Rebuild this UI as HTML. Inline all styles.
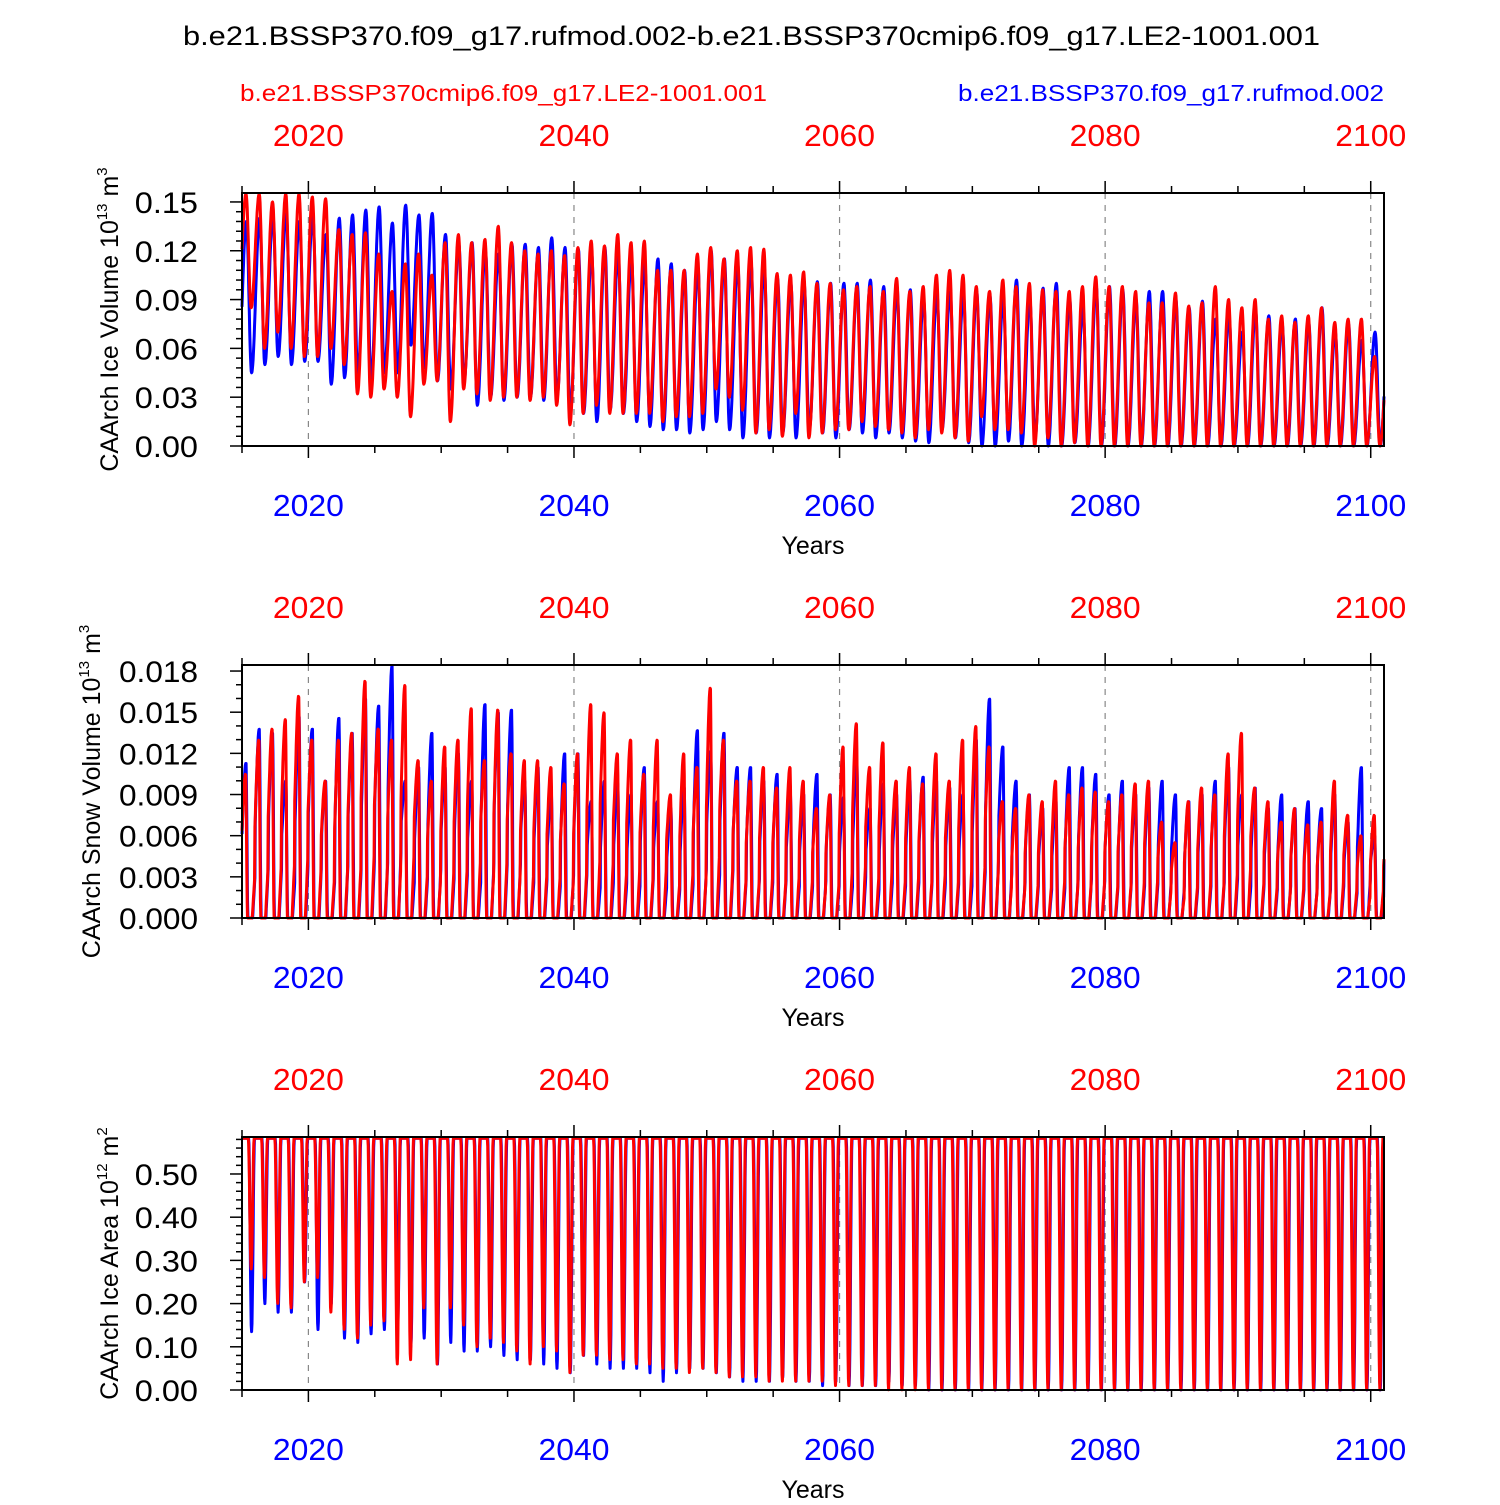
<!DOCTYPE html>
<html><head><meta charset="utf-8"><style>
body{margin:0;background:#fff}
svg text{font-family:"Liberation Sans",sans-serif}
</style></head><body>
<svg id="c" width="1500" height="1500" xmlns="http://www.w3.org/2000/svg">
<text x="183" y="45" font-size="27" textLength="1137" lengthAdjust="spacingAndGlyphs">b.e21.BSSP370.f09_g17.rufmod.002-b.e21.BSSP370cmip6.f09_g17.LE2-1001.001</text>
<text x="240" y="101" font-size="23" fill="#f00" textLength="527" lengthAdjust="spacingAndGlyphs">b.e21.BSSP370cmip6.f09_g17.LE2-1001.001</text>
<text x="958" y="101" font-size="23" fill="#00f" textLength="426" lengthAdjust="spacingAndGlyphs">b.e21.BSSP370.f09_g17.rufmod.002</text>
</svg>
<script>
const startYear=[2015];
const yearTicks=[2020,2040,2060,2080,2100];
const volBlueMax=[.138,.140,.141,.143,.138,.141,.130,.140,.142,.145,.147,.137,.148,.142,.143,.130,.124,.125,.120,.118,.124,.124,.122,.128,.122,.121,.118,.122,.118,.115,.112,.115,.112,.108,.110,.120,.115,.112,.113,.110,.103,.100,.100,.101,.100,.100,.100,.102,.098,.097,.096,.090,.094,.095,.093,.095,.092,.090,.102,.090,.097,.100,.090,.085,.098,.098,.096,.090,.095,.095,.090,.085,.089,.078,.080,.070,.083,.080,.075,.078,.076,.085,.070,.075,.065,.070];
const volBlueMin=[.045,.050,.055,.050,.052,.052,.038,.042,.045,.040,.045,.045,.062,.048,.040,.035,.040,.025,.030,.028,.030,.030,.028,.030,.020,.020,.015,.022,.020,.015,.012,.010,.010,.008,.010,.015,.010,.005,.008,.005,.008,.005,.010,.008,.005,.010,.008,.005,.008,.005,.003,.002,.010,.005,.002,0,0,.003,0,.005,0,0,.002,0,0,0,0,0,0,0,0,0,0,0,0,0,0,0,0,0,0,0,0,0,0,0];
const volRedMax=[.155,.155,.150,.155,.155,.153,.152,.133,.130,.131,.118,.095,.112,.118,.105,.125,.130,.125,.127,.135,.125,.120,.118,.120,.117,.122,.126,.123,.130,.125,.126,.108,.108,.108,.118,.122,.115,.120,.122,.121,.106,.105,.107,.100,.100,.096,.098,.098,.095,.103,.095,.098,.105,.108,.105,.098,.095,.102,.098,.100,.096,.095,.095,.098,.104,.098,.098,.095,.088,.088,.094,.086,.088,.098,.090,.085,.090,.078,.080,.076,.080,.085,.076,.078,.078,.055];
const volRedMin=[.085,.060,.070,.060,.055,.055,.060,.050,.032,.030,.035,.030,.018,.038,.040,.015,.035,.032,.028,.030,.030,.028,.030,.025,.013,.020,.025,.020,.020,.020,.020,.015,.018,.018,.020,.035,.030,.022,.008,.010,.006,.020,.005,.008,.010,.010,.015,.012,.010,.008,.005,.010,.008,.005,.003,.018,.010,.010,.008,0,.005,0,.002,0,0,0,0,0,0,0,0,0,0,0,0,0,0,0,0,0,0,0,0,0,0,0];
const snowBlueMax=[.0113,.0138,.0135,.0100,.0147,.0138,.0100,.0146,.0135,.0160,.0155,.0184,.0100,.0110,.0135,.0110,.0120,.0100,.0156,.0150,.0152,.0100,.0110,.0090,.0120,.0120,.0085,.0100,.0098,.0090,.0110,.0085,.0080,.0095,.0137,.0122,.0135,.0110,.0110,.0100,.0105,.0090,.0090,.0105,.0090,.0088,.0115,.0080,.0098,.0090,.0100,.0103,.0100,.0095,.0090,.0130,.0160,.0125,.0100,.0090,.0080,.0085,.0110,.0110,.0105,.0090,.0100,.0090,.0095,.0100,.0090,.0085,.0090,.0100,.0110,.0090,.0095,.0080,.0090,.0080,.0085,.0080,.0090,.0070,.0110,.0060];
const snowRedMax=[.0105,.0130,.0138,.0145,.0162,.0130,.0100,.0130,.0135,.0173,.0138,.0130,.0170,.0115,.0100,.0125,.0130,.0153,.0115,.0152,.0120,.0115,.0115,.0110,.0098,.0120,.0156,.0150,.0120,.0130,.0105,.0130,.0090,.0120,.0110,.0168,.0130,.0100,.0100,.0110,.0095,.0110,.0100,.0080,.0090,.0125,.0142,.0110,.0128,.0100,.0110,.0098,.0120,.0100,.0130,.0140,.0125,.0085,.0080,.0090,.0085,.0100,.0090,.0095,.0092,.0085,.0090,.0098,.0100,.0070,.0055,.0085,.0095,.0090,.0120,.0135,.0095,.0085,.0070,.0080,.0068,.0070,.0100,.0075,.0060,.0075];
const areaMax=[.585,.585,.585,.585,.585,.585,.585,.585,.585,.585,.585,.585,.585,.585,.585,.585,.585,.585,.585,.585,.585,.585,.585,.585,.585,.585,.585,.585,.585,.585,.585,.585,.585,.585,.585,.585,.585,.585,.585,.585,.585,.585,.585,.585,.585,.585,.585,.585,.585,.585,.585,.585,.585,.585,.585,.585,.585,.585,.585,.585,.585,.585,.585,.585,.585,.585,.585,.585,.585,.585,.585,.585,.585,.585,.585,.585,.585,.585,.585,.585,.585,.585,.585,.585,.585,.585];
const areaBlueMin=[.135,.20,.18,.18,.25,.14,.20,.12,.11,.13,.14,.14,.10,.12,.06,.11,.09,.09,.10,.08,.07,.07,.06,.05,.04,.08,.06,.05,.05,.05,.04,.02,.04,.05,.05,.04,.03,.02,.02,.02,.03,.02,.02,.01,.02,.01,.01,.01,.02,.01,.01,0,0,0,0,0,0,0,0,0,0,0,0,0,0,0,0,0,0,0,0,0,0,0,0,0,0,0,0,0,0,0,0,0,0,0];
const areaRedMin=[.28,.26,.20,.19,.25,.26,.18,.14,.12,.15,.16,.06,.07,.19,.06,.19,.15,.10,.12,.11,.09,.06,.10,.09,.04,.08,.08,.07,.07,.06,.06,.05,.05,.04,.05,.04,.03,.03,.03,.02,.02,.02,.02,.02,.01,.01,.01,.01,0,0,0,0,0,0,0,0,0,0,0,0,0,0,0,0,0,0,0,0,0,0,0,0,0,0,0,0,0,0,0,0,0,0,0,0,0,0];
const volTicks=["0.00","0.03","0.06","0.09","0.12","0.15"];
const snowTicks=["0.000","0.003","0.006","0.009","0.012","0.015","0.018"];
const areaTicks=["0.00","0.10","0.20","0.30","0.40","0.50"];

const NS="http://www.w3.org/2000/svg",svg=document.getElementById('c');
const X0=242,X1=1384,T0=2015,T1=2101;
const xs=t=>X0+(t-T0)*(X1-X0)/(T1-T0);
function el(tag,a,txt){const e=document.createElementNS(NS,tag);for(const k in a)e.setAttribute(k,a[k]);if(txt!==undefined)e.textContent=txt;svg.appendChild(e);return e;}
const cosI=(a,b,f)=>a+(b-a)*(1-Math.cos(Math.PI*f))/2;
function volCurve(mx,mn,t,sh){let y=Math.floor(t-sh),p=t-sh-y;const i=Math.min(Math.max(y-T0,0),mx.length-1);
 const pm=mn[Math.max(i-1,0)];
 if(p<0.33)return cosI(pm,mx[i],(p+0.28)/0.61);
 if(p<0.72)return cosI(mx[i],mn[i],(p-0.33)/0.39);
 return cosI(mn[i],mx[Math.min(i+1,mx.length-1)],(p-0.72)/0.61);}
function snowCurve(mx,t,sh){let y=Math.floor(t-sh),p=t-sh-y;const i=Math.min(Math.max(y-T0,0),mx.length-1);
 if(p<0.3)return cosI(mx[Math.max(i-1,0)]*0.3,mx[i],(p+0.2)/0.5);
 if(p<0.45)return cosI(mx[i],0,(p-0.3)/0.15);
 if(p<0.8)return 0;
 return mx[i]*0.3*(p-0.8)/0.2;}
function areaCurve(mx,mn,t,sh){let y=Math.floor(t-sh),p=t-sh-y;const i=Math.min(Math.max(y-T0,0),mn.length-1);
 if(p<0.5||p>0.95)return mx[i];
 if(p<0.72)return cosI(mx[i],mn[i],(p-0.5)/0.22);
 return cosI(mn[i],mx[i],(p-0.72)/0.23);}
function panel(id,top,ymax,yTicks,tickStep,minorN,fn,title,sup,unit,titleX){
 const bot=top+253,ys=v=>bot-v/ymax*(bot-top);
 yearTicks.forEach(t=>{const g=el('line',{x1:xs(t),x2:xs(t),y1:top,y2:bot,stroke:'#888','stroke-dasharray':'6,6','stroke-width':1.2});
  });
 [['blue','#00f',0],['red','#f00',-0.03]].forEach(([nm,c,sh])=>{let pts=[];for(let t=T0;t<=T1+1e-9;t+=1/36){const v=fn(nm,t,sh);pts.push(xs(t).toFixed(1)+','+ys(Math.min(v,ymax*0.995)).toFixed(1));}
  const pl=el('polyline',{points:pts.join(' '),fill:'none',stroke:c,'stroke-width':3,'stroke-linejoin':'round'});
  });
 const b=el('rect',{x:X0,y:top,width:X1-X0,height:bot-top,fill:'none',stroke:'#000','stroke-width':2});
 
 for(let t=T0;t<=T1;t++){if(t%5)continue;const maj=t%20==0,L=maj?12:7;
  el('line',{x1:xs(t),x2:xs(t),y1:top,y2:top-L,stroke:'#000','stroke-width':1.5});
  el('line',{x1:xs(t),x2:xs(t),y1:bot,y2:bot+L,stroke:'#000','stroke-width':1.5});}
 yearTicks.forEach(t=>{const a=el('text',{x:xs(t),y:top-47,'font-size':31,fill:'#f00','text-anchor':'middle',textLength:71,lengthAdjust:'spacingAndGlyphs'},t);
  
  const bb=el('text',{x:xs(t),y:bot+70,'font-size':31,fill:'#00f','text-anchor':'middle',textLength:71,lengthAdjust:'spacingAndGlyphs'},t);
  });
 const xt=el('text',{x:813,y:bot+108,'font-size':25,'text-anchor':'middle'},'Years');
 
 for(let k=0;k*tickStep/minorN<=ymax+1e-9;k++){const v=k*tickStep/minorN,maj=k%minorN==0;
  el('line',{x1:X0,x2:X0-(maj?12:6),y1:ys(v),y2:ys(v),stroke:'#000','stroke-width':1.5});}
 yTicks.forEach((s,k)=>{const tl=el('text',{x:198,y:ys(k*tickStep)+11,'font-size':30,'text-anchor':'end',textLength:s.length*15.8,lengthAdjust:'spacingAndGlyphs'},s);
  });
 const yt=el('text',{x:0,y:0,'font-size':25,'text-anchor':'middle',transform:`translate(${titleX},${(top+bot)/2}) rotate(-90)`});
 
 yt.innerHTML=`${title} 10<tspan dy="-11" font-size="15">${sup}</tspan><tspan dy="11"> m</tspan><tspan dy="-11" font-size="15">${unit}</tspan>`;
}
panel('ice-volume',193,0.1555,volTicks,0.03,5,(nm,t,sh)=>nm=='blue'?volCurve(volBlueMax,volBlueMin,t,sh):volCurve(volRedMax,volRedMin,t,sh),'CAArch Ice Volume','13','3',118);
panel('snow-volume',665,0.01844,snowTicks,0.003,3,(nm,t,sh)=>snowCurve(nm=='blue'?snowBlueMax:snowRedMax,t,sh),'CAArch Snow Volume','13','3',100);
panel('ice-area',1137,0.5856,areaTicks,0.1,5,(nm,t,sh)=>areaCurve(areaMax,nm=='blue'?areaBlueMin:areaRedMin,t,sh),'CAArch Ice Area','12','2',118);
</script>
</body></html>
